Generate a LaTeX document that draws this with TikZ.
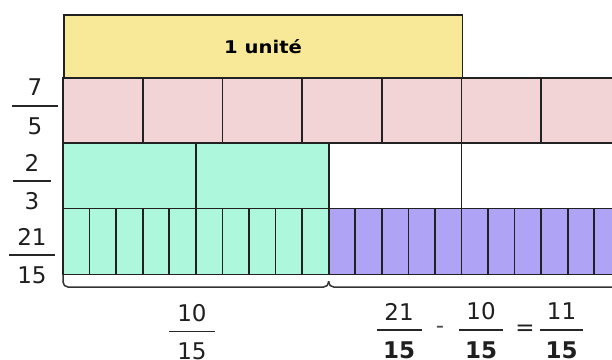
\documentclass[tikz,border=0pt]{standalone}
\usepackage{fontspec}
\setmainfont{DejaVu Sans}
\newfontfamily\unitfont[FakeStretch=1.12]{DejaVu Sans}
\begin{document}
\begin{tikzpicture}[x=1pt,y=-1pt,
  cellbox/.style={draw=black!87, line width=1.7pt},
  numtext/.style={font=\fontsize{23}{23}\selectfont, inner sep=0pt, text=black!88},
  boldnum/.style={numtext, font=\fontsize{23}{23}\selectfont\bfseries},
  fracbar/.style={draw=black!85, line width=1.8pt},
  bracket/.style={draw=black!80, line width=1.5pt, rounded corners=5pt}]
\definecolor{unitcol}{HTML}{F7E998}
\definecolor{fifthcol}{HTML}{F2D4D6}
\definecolor{mintcol}{HTML}{ADF7DC}
\definecolor{purplecol}{HTML}{AEA3F5}
\useasboundingbox (0,0) rectangle (612,359);
\clip (0,0) rectangle (612,359);

% one unit = 398.5 wide, starting at x = 63
\def\ux{63}
\def\uw{398.5}

% the unit bar
\node[cellbox, fill=unitcol, minimum width=\uw pt, minimum height=64pt, anchor=north west,
      inner sep=0pt, font=\unitfont\fontsize{17.5}{17.5}\selectfont\bfseries] (unit) at (\ux,14) {1 unité};

% 7/5 : seven fifths
\foreach \i in {0,...,6}
  \draw[cellbox, fill=fifthcol] ({\ux+\i*\uw/5},78) rectangle ({\ux+(\i+1)*\uw/5},143);

% 2/3 : two thirds shaded, the rest of the row empty
\foreach \i in {0,1}
  \draw[cellbox, fill=mintcol] ({\ux+\i*\uw/3},143) rectangle ({\ux+(\i+1)*\uw/3},208.5);
\draw[cellbox, fill=white] ({\ux+2*\uw/3},143) rectangle ({\ux+\uw},208.5);
\draw[cellbox, fill=white] ({\ux+\uw},143) rectangle (660,208.5);

% 21/15 : ten fifteenths in mint, eleven in purple
\foreach \i in {0,...,20}{
  \ifnum\i<10 \def\cc{mintcol}\else\def\cc{purplecol}\fi
  \draw[cellbox, fill=\cc] ({\ux+\i*\uw/15},208.5) rectangle ({\ux+(\i+1)*\uw/15},274.5);
}

% brackets under the last row
\coordinate (bA) at (\ux,274.5);
\coordinate (bM) at ({\ux+2*\uw/3},281);
\coordinate (bE) at (660,287);
\draw[bracket] (bA) -- (\ux,287) -- ({\ux+2*\uw/3},287) -- (bM);
\draw[bracket] (bM) -- ({\ux+2*\uw/3},287) -- (bE);

% fraction: name, x, y of bar, numerator, denominator, half bar width, denominator style
\newcommand\fracnode[7]{%
  \node[numtext] (#1n) at (#2,#3-18.5) {#4};
  \node[#7] (#1d) at (#2,#3+20) {#5};
  \coordinate (#1l) at (#2-#6,#3);
  \coordinate (#1r) at (#2+#6,#3);
  \draw[fracbar] (#1l) -- (#1r);
}

% row labels
\fracnode{sevfifth}{35}{106}{7}{5}{23}{numtext}
\fracnode{twothird}{32}{181}{2}{3}{19}{numtext}
\fracnode{twoonefif}{32}{255}{21}{15}{23}{numtext}

% label under the first bracket
\fracnode{tenfif}{192}{331.5}{10}{15}{23}{numtext}

% the subtraction
\fracnode{eqa}{399}{330}{21}{15}{22.5}{boldnum}
\node[numtext, text=black!70] (minus) at (440,330) {-};
\fracnode{eqb}{481}{330}{10}{15}{22}{boldnum}
\node[numtext] (equals) at (525,330) {=};
\fracnode{eqc}{561.5}{330}{11}{15}{21.5}{boldnum}
\end{tikzpicture}
\end{document}
